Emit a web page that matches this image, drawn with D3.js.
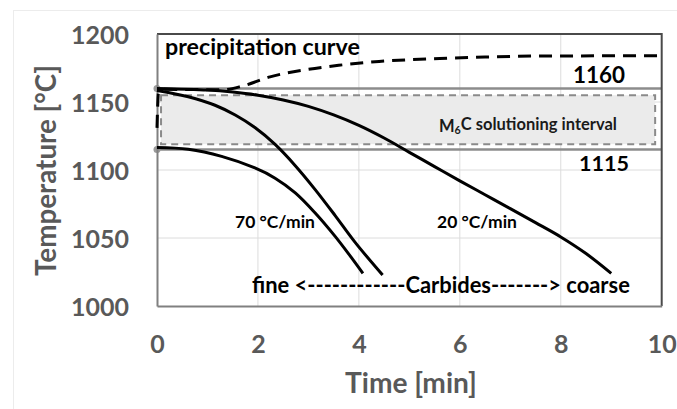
<!DOCTYPE html>
<html><head><meta charset="utf-8">
<script src="https://cdn.jsdelivr.net/npm/d3@7"></script>
<style>
body{margin:0;background:#fff;}
svg{display:block;}
text{font-family:Lato,"Open Sans",sans-serif;font-weight:700;}
</style></head>
<body><svg id="chart" width="677" height="409"></svg>
<script>
// ---- data ----
const xTicks = [0, 2, 4, 6, 8, 10];
const yTicks = [1000, 1050, 1100, 1150, 1200];
const xDomain = [0, 10];
const yDomain = [1000, 1200];

const precipTime = [0, 0.03, 0.15, 1.3, 1.7, 2.24, 3.0, 3.6, 4.4, 5.6, 6.5, 7.6, 10];
const precipTemp = [1131, 1157, 1159.3, 1159, 1161.8, 1168.5, 1174, 1177, 1179.8, 1182, 1183, 1183.8, 1184];

const cool20Time = [0, 1, 1.5, 2, 2.5, 3, 3.5, 4, 4.5, 5, 5.5, 6, 6.5, 7, 7.5, 8, 8.5, 9];
const cool20Temp = [1160, 1158.8, 1157.3, 1155, 1151.5, 1146.8, 1140.5, 1132.8, 1123.5, 1113, 1102.5, 1092, 1081.8, 1071.6, 1061.3, 1050.8, 1038.6, 1024];

const cool70aTime = [0, 0.62, 1.15, 1.55, 1.94, 2.34, 2.74, 3.13, 3.53, 3.93, 4.47];
const cool70aTemp = [1158.5, 1153.9, 1147.6, 1140.4, 1131.2, 1118.8, 1103.2, 1085.8, 1066.5, 1046.6, 1022.8];

const cool70bTime = [0, 0.62, 1.28, 1.94, 2.34, 2.74, 3.13, 3.53, 3.86, 4.08];
const cool70bTemp = [1116.5, 1115.2, 1110, 1101.5, 1094, 1083.2, 1068.6, 1051.2, 1035.2, 1024];

const limitTemps = [1160, 1115];
const limitLabels = ["1160", "1115"];
const intervalTime = [0.08, 9.87];
const intervalTemp = [1119, 1155];

const xTitle = "Time [min]";
const yTitle = "Temperature [°C]";

// ---- layout ----
const svg = d3.select("#chart");
const L = 157, R = 661.7, T = 34, B = 306;
const x = d3.scaleLinear().domain(xDomain).range([L, R]);
const y = d3.scaleLinear().domain(yDomain).range([B, T]);

function fit(sel, w) {
  const len = sel.node().getComputedTextLength();
  const fs = parseFloat(sel.attr("font-size"));
  sel.attr("font-size", fs * w / len);
  return sel;
}

// faint outer frame
svg.append("rect").attr("x", 13.5).attr("y", 10.5).attr("width", 700).attr("height", 420)
  .attr("fill", "none").attr("stroke", "#ececec");

// gridlines
svg.append("g").selectAll("line").data(xTicks.slice(1, -1)).join("line")
  .attr("x1", d => x(d)).attr("x2", d => x(d)).attr("y1", T).attr("y2", B)
  .attr("stroke", "#dcdcdc").attr("stroke-width", 1);
svg.append("g").selectAll("line").data(yTicks.slice(1, -1)).join("line")
  .attr("x1", L).attr("x2", R).attr("y1", d => y(d)).attr("y2", d => y(d))
  .attr("stroke", "#dcdcdc").attr("stroke-width", 1);

// solutioning interval box
svg.append("rect")
  .attr("x", x(intervalTime[0])).attr("y", y(intervalTemp[1]))
  .attr("width", x(intervalTime[1]) - x(intervalTime[0]))
  .attr("height", y(intervalTemp[0]) - y(intervalTemp[1]))
  .attr("fill", "#ebebeb").attr("stroke", "#8a8a8a").attr("stroke-width", 2)
  .attr("stroke-dasharray", "7,5");

// limit lines
svg.append("g").selectAll("line").data(limitTemps).join("line")
  .attr("x1", x(0)).attr("x2", x(10)).attr("y1", d => y(d)).attr("y2", d => y(d))
  .attr("stroke", "#8c8c8c").attr("stroke-width", 2.5);
svg.append("g").selectAll("circle").data(limitTemps).join("circle")
  .attr("cx", x(0)).attr("cy", d => y(d)).attr("r", 3.5).attr("fill", "#9a9a9a");

// plot frame (top/right)
svg.append("path").attr("d", `M${L},${T}H${R}V${B}`)
  .attr("fill", "none").attr("stroke", "#4a4a4a").attr("stroke-width", 2);

// axes
const yAxis = svg.append("g").attr("transform", `translate(${L},0)`)
  .call(d3.axisLeft(y).tickValues(yTicks).tickSize(0).tickPadding(28).tickFormat(d3.format("d")));
const xAxis = svg.append("g").attr("transform", `translate(0,${B})`)
  .call(d3.axisBottom(x).tickValues(xTicks).tickSize(0).tickFormat(d3.format("d")));
[yAxis, xAxis].forEach(a => {
  a.select(".domain").attr("stroke", "#808080").attr("stroke-width", 2);
  a.selectAll("text").attr("fill", "#595959").attr("font-family", "Lato").attr("font-weight", 700);
});
const probe = yAxis.select(".tick text").attr("font-size", 26);
const lenP = probe.node().getComputedTextLength();
const tickFs = 26 * 58 / lenP;
yAxis.selectAll("text").attr("font-size", tickFs).attr("dy", "0.36em");
xAxis.selectAll("text").attr("font-size", tickFs).attr("y", 47).attr("dy", 0);

// curves
const smooth = d3.line().x(d => x(d[0])).y(d => y(d[1])).curve(d3.curveCatmullRom.alpha(0.5));
const mono = d3.line().x(d => x(d[0])).y(d => y(d[1])).curve(d3.curveMonotoneX);
function series(t, v) { return t.map((d, i) => [d, v[i]]); }
svg.append("path").datum(series(cool20Time, cool20Temp)).attr("d", smooth)
  .attr("fill", "none").attr("stroke", "#000").attr("stroke-width", 3);
svg.append("path").datum(series(cool70aTime, cool70aTemp)).attr("d", smooth)
  .attr("fill", "none").attr("stroke", "#000").attr("stroke-width", 3);
svg.append("path").datum(series(cool70bTime, cool70bTemp)).attr("d", smooth)
  .attr("fill", "none").attr("stroke", "#000").attr("stroke-width", 3);
svg.append("path").datum(series(precipTime, precipTemp)).attr("d", mono)
  .attr("fill", "none").attr("stroke", "#000").attr("stroke-width", 3)
  .attr("stroke-dasharray", "13,8");

// annotations
function label(txt, xl, yb, w, fs, color) {
  const t = svg.append("text").attr("x", xl).attr("y", yb).attr("font-size", fs)
    .attr("fill", color || "#000").text(txt);
  fit(t, w);
  return t;
}
label("precipitation curve", 165, 55, 195, 20);
label(limitLabels[0], 573, 82.7, 52, 22);
label(limitLabels[1], 579, 170.7, 50, 22);
label("70 °C/min", 235, 228, 80, 16);
label("20 °C/min", 437, 228, 80, 16);
label("fine <------------Carbides-------> coarse", 252, 293, 378, 22);

// M6C label with subscript
const m = svg.append("text").attr("x", 439).attr("y", 131.7).attr("font-size", 15).attr("fill", "#1a1a1a");
m.append("tspan").text("M");
m.append("tspan").attr("font-size", "0.65em").attr("dy", "0.25em").text("6");
m.append("tspan").attr("dy", "-0.25em").text("C solutioning interval");
{
  const len = m.node().getComputedTextLength();
  m.attr("font-size", 15 * 178 / len);
  const len2 = m.node().getComputedTextLength();
  m.attr("font-size", 15 * 178 / len * 178 / len2);
}

// axis titles
const xt = svg.append("text").attr("x", 345).attr("y", 393).attr("font-size", 26)
  .attr("fill", "#595959").text(xTitle);
fit(xt, 132);
const yt = svg.append("text").attr("transform", "translate(56,276) rotate(-90)")
  .attr("font-size", 26).attr("fill", "#595959").text(yTitle);
fit(yt, 211);
</script></body></html>
